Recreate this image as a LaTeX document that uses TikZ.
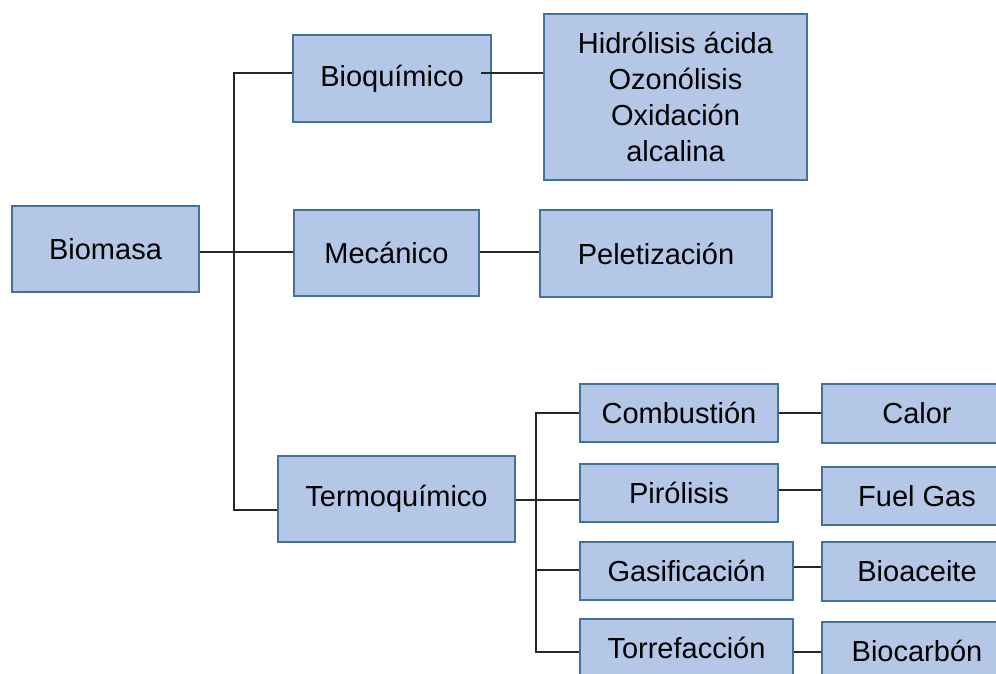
\documentclass[tikz,border=0pt]{standalone}
\usepackage{fontspec}
\setmainfont{Liberation Sans}
\definecolor{boxfill}{HTML}{B4C7E7}
\definecolor{boxline}{HTML}{41719C}
\definecolor{conn}{HTML}{262626}
\begin{document}
\begin{tikzpicture}[x=1pt,y=-1pt,
  bx/.style={draw=boxline, fill=boxfill, line width=2.3pt, inner sep=0pt, align=center,
    font=\fontsize{29}{36}\selectfont},
  cn/.style={draw=conn, line width=1.3pt}]
\useasboundingbox (0,0) rectangle (996,673);
\clip (0,0) rectangle (996,673);
% nodes
\node[bx, minimum width=187pt, minimum height=86pt] (biomasa) at (105.5,249) {Biomasa};
\node[bx, minimum width=198pt, minimum height=87pt] (bioq) at (392,78.5) {Bioquímico};
\node[bx, minimum width=263pt, minimum height=166pt] (hidr) at (675.5,97) {Hidrólisis ácida\\Ozonólisis\\Oxidación\\alcalina};
\node[bx, minimum width=185pt, minimum height=86pt] (meca) at (386.5,253) {Mecánico};
\node[bx, minimum width=232pt, minimum height=87pt] (pele) at (656,253.5) {Peletización};
\node[bx, minimum width=237pt, minimum height=86pt] (termo) at (396.5,499) {Termoquímico};
\node[bx, minimum width=198pt, minimum height=58pt] (comb) at (679,413) {Combustión};
\node[bx, minimum width=198pt, minimum height=58pt] (piro) at (679,493) {Pirólisis};
\node[bx, minimum width=213pt, minimum height=58pt] (gasi) at (686.5,571) {Gasificación};
\node[bx, minimum width=213pt, minimum height=58pt] (torr) at (686.5,648) {Torrefacción};
\node[bx, minimum width=190pt, minimum height=59pt] (calor) at (917,413.5) {Calor};
\node[bx, minimum width=190pt, minimum height=58pt] (fuel) at (917,496) {Fuel Gas};
\node[bx, minimum width=190pt, minimum height=59pt] (bioac) at (917,571.5) {Bioaceite};
\node[bx, minimum width=190pt, minimum height=58pt] (biocar) at (917,651) {Biocarbón};
% bus coordinates
\coordinate (busTop) at (234,73);
\coordinate (busBot) at (234,510);
\coordinate (bqout) at (481,73);
\coordinate (mrow) at (0,252);
\coordinate (bus2Top) at (536,413);
\coordinate (bus2Bot) at (536,652);
\coordinate (trow) at (0,500);
% connectors level 1
\draw[cn] (bioq.west |- busTop) -- (busTop) -- (busBot) -- (termo.west |- busBot);
\draw[cn] (biomasa.east |- mrow) -- (meca.west |- mrow);
\draw[cn] (bqout) -- (hidr.west |- bqout);
\draw[cn] (meca.east |- mrow) -- (pele.west |- mrow);
% level 2
\draw[cn] (termo.east |- trow) -- (piro.west |- trow);
\draw[cn] (comb.west |- bus2Top) -- (bus2Top) -- (bus2Bot) -- (torr.west |- bus2Bot);
\draw[cn] (bus2Top |- gasi) ++(0,-1) coordinate (g1) -- (gasi.west |- g1);
% level 3
\draw[cn] (comb.east |- bus2Top) -- (calor.west |- bus2Top);
\coordinate (frow) at (0,490);
\draw[cn] (piro.east |- frow) -- (fuel.west |- frow);
\coordinate (brow) at (0,567);
\draw[cn] (gasi.east |- brow) -- (bioac.west |- brow);
\draw[cn] (torr.east |- bus2Bot) -- (biocar.west |- bus2Bot);
\end{tikzpicture}
\end{document}
